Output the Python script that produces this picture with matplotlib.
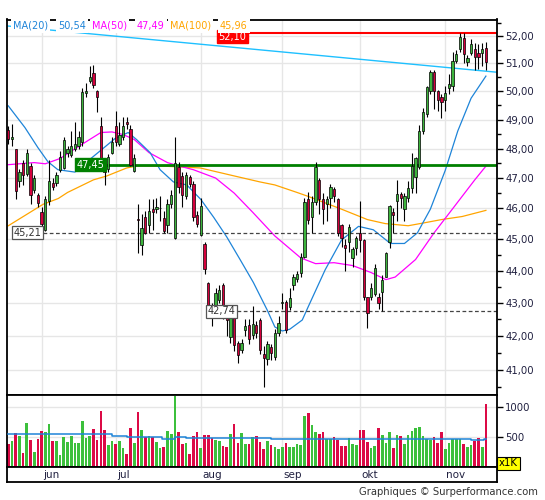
import numpy as np
import matplotlib.pyplot as plt
from matplotlib.ticker import FixedLocator, NullFormatter, FuncFormatter

# ============================================================
# data (index = trading day)
# ============================================================

opens = [48.62, 48.31, 47.97, 46.90, 47.52, 47.14, 47.41, 46.61, 46.45, 45.87,
         45.28, 46.23, 46.84, 46.84, 47.26, 47.34, 47.83, 47.79, 47.97, 48.07,
         48.21, 49.95, 50.38, 50.66, 50.00, 48.76, 47.50, 47.31, 47.86, 48.79,
         48.17, 48.41, 48.90, 48.66, 47.24, 45.65, 44.81, 45.73, 45.47, 45.97,
         45.97, 46.00, 45.67, 45.47, 46.13, 45.03, 47.38, 47.07, 46.39, 47.03,
         46.81, 45.77, 45.13, 44.84, 43.63, 42.95, 42.94, 43.09, 43.56, 42.88,
         41.97, 42.55, 41.79, 41.59, 42.18, 42.33, 42.03, 42.33, 42.48, 41.47,
         41.32, 41.68, 41.38, 42.09, 43.00, 43.03, 42.88, 43.56, 43.75, 43.94,
         44.44, 46.29, 45.70, 46.19, 46.94, 46.29, 46.13, 46.35, 46.65, 46.32,
         45.47, 44.81, 44.90, 44.41, 44.72, 45.20, 44.97, 43.19, 43.19, 43.28,
         43.19, 43.34, 43.81, 44.91, 45.87, 46.23, 46.48, 45.97, 46.35, 46.68,
         47.03, 47.38, 48.59, 49.19, 50.00, 50.69, 50.00, 49.81, 49.67, 50.10,
         50.17, 51.10, 51.54, 51.93, 51.04, 51.39, 51.54, 51.39, 51.39, 51.57]

highs = [48.76, 48.86, 47.99, 47.30, 47.60, 47.97, 47.50, 47.10, 46.50, 46.03,
         46.40, 47.60, 47.00, 47.20, 47.90, 48.40, 48.10, 48.60, 48.93, 48.60,
         50.10, 50.30, 50.90, 50.93, 50.05, 49.10, 47.60, 47.80, 48.40, 49.30,
         48.90, 49.10, 49.10, 48.80, 47.80, 46.13, 45.80, 45.90, 46.30, 46.30,
         46.35, 46.40, 45.90, 46.30, 46.60, 48.38, 47.55, 47.20, 47.20, 47.10,
         46.90, 45.90, 46.35, 44.90, 43.66, 43.00, 43.45, 43.56, 43.60, 42.95,
         42.70, 42.60, 41.85, 41.90, 42.50, 42.50, 42.90, 42.45, 42.55, 41.70,
         41.85, 41.75, 42.20, 42.60, 43.30, 43.10, 43.45, 43.90, 44.00, 44.55,
         46.35, 46.55, 46.40, 47.55, 47.00, 46.50, 46.40, 46.80, 46.70, 46.35,
         45.50, 45.00, 45.50, 44.75, 45.10, 46.23, 45.00, 43.19, 43.60, 44.20,
         43.30, 43.85, 44.60, 46.10, 46.00, 46.94, 46.55, 46.50, 46.90, 47.83,
         47.70, 48.80, 49.40, 50.20, 50.75, 50.75, 50.05, 49.90, 50.20, 50.60,
         51.40, 51.50, 52.10, 52.10, 51.30, 51.90, 51.75, 51.70, 51.75, 51.80]

lows = [48.14, 48.07, 46.29, 46.70, 46.77, 47.07, 46.13, 46.50, 46.05, 45.21,
        45.25, 46.10, 46.60, 46.75, 47.20, 47.30, 47.70, 47.70, 47.90, 48.00,
        48.10, 49.80, 50.30, 50.10, 49.26, 47.30, 46.77, 47.20, 47.80, 48.10,
        48.10, 48.30, 48.66, 47.40, 47.20, 44.56, 44.50, 45.15, 45.20, 45.30,
        45.85, 45.60, 45.20, 45.20, 46.00, 45.00, 46.50, 46.05, 46.30, 46.70,
        45.60, 45.40, 45.10, 43.90, 42.79, 42.30, 42.80, 43.00, 42.50, 42.00,
        41.80, 41.55, 41.20, 41.50, 42.00, 41.75, 41.90, 41.95, 41.45, 40.50,
        41.15, 41.30, 41.30, 42.00, 42.80, 42.10, 42.78, 43.40, 43.65, 43.80,
        44.40, 45.50, 45.20, 46.10, 45.80, 45.50, 45.60, 46.00, 46.20, 45.10,
        44.75, 44.00, 44.60, 44.10, 44.50, 44.60, 43.10, 42.25, 43.10, 43.20,
        42.80, 42.75, 43.80, 44.70, 45.20, 45.60, 46.00, 45.60, 46.20, 46.50,
        46.50, 47.30, 48.50, 49.10, 49.90, 49.37, 49.30, 49.07, 49.30, 49.90,
        50.00, 51.00, 51.40, 51.00, 50.90, 51.30, 50.75, 50.80, 50.90, 50.75]

closes = [48.34, 48.41, 46.58, 47.21, 47.10, 47.83, 46.45, 47.00, 46.16, 45.50,
          46.32, 46.90, 46.71, 47.10, 47.72, 48.28, 47.97, 48.10, 48.17, 48.41,
          49.96, 50.00, 50.52, 50.21, 49.78, 47.45, 47.20, 47.72, 48.24, 48.21,
          48.48, 48.79, 48.83, 47.45, 47.66, 45.62, 45.37, 45.20, 45.90, 45.87,
          46.03, 46.02, 45.27, 46.13, 46.45, 47.52, 46.71, 46.45, 47.10, 46.81,
          45.73, 45.50, 46.06, 44.06, 42.88, 42.75, 43.31, 43.41, 42.88, 42.48,
          42.58, 41.74, 41.44, 41.79, 42.30, 41.91, 42.36, 42.09, 41.59, 41.35,
          41.76, 41.50, 42.09, 42.39, 43.03, 42.18, 43.16, 43.81, 43.88, 44.44,
          46.19, 45.63, 46.19, 47.38, 46.32, 45.97, 46.29, 46.71, 46.39, 45.20,
          45.03, 44.72, 45.40, 44.69, 45.03, 44.97, 43.19, 42.70, 43.47, 44.09,
          43.00, 43.72, 44.56, 46.06, 45.77, 46.48, 46.35, 46.39, 46.68, 47.41,
          47.66, 48.59, 49.26, 50.14, 50.69, 50.00, 49.70, 49.63, 49.93, 50.25,
          51.07, 51.36, 51.96, 51.36, 51.21, 51.71, 51.25, 51.25, 51.54, 51.04]

# volume in thousands
volumes = [378, 428, 567, 511, 228, 728, 445, 250, 461, 595,
           578, 712, 428, 428, 195, 495, 411, 511, 395, 395,
           762, 478, 511, 628, 445, 928, 611, 361, 428, 378,
           428, 311, 211, 645, 395, 911, 611, 495, 511, 495,
           411, 311, 328, 595, 545, 1178, 578, 378, 395, 211,
           511, 578, 311, 528, 528, 478, 445, 428, 345, 328,
           545, 712, 395, 561, 378, 378, 495, 511, 411, 295,
           428, 361, 333, 295, 333, 406, 328, 328, 389, 361,
           845, 895, 695, 578, 545, 578, 473, 473, 495, 445,
           345, 345, 478, 378, 361, 611, 611, 411, 311, 345,
           645, 528, 395, 578, 311, 528, 511, 378, 528, 595,
           645, 661, 511, 461, 445, 495, 395, 578, 295, 395,
           461, 461, 461, 378, 328, 361, 428, 484, 328, 1045]

# moving averages
ma20_x = [0, 4.5, 8, 10.7, 13.4, 18, 22.6, 25.3, 28.8, 32.4, 34.7, 38.3, 41, 44.6,
          48.2, 52, 55.5, 59, 62.6, 66.2, 69.9, 72, 74, 76, 79.4, 81, 85.6, 90, 94.6,
          98.6, 103.2, 107, 110.5, 114, 118, 121.4, 125, 129]
ma20_y = [49.48, 48.72, 48.03, 47.55, 47.28, 47.20, 47.69, 47.97, 48.34, 48.55, 48.30,
          47.86, 47.28, 46.87, 46.77, 46.29, 45.70, 45.07, 44.35, 43.63, 42.79, 42.27,
          42.15, 42.20, 42.48, 42.88, 44.03, 44.97, 45.41, 45.30, 44.86, 44.86, 45.20,
          45.97, 47.25, 48.60, 49.75, 50.54]

ma50_x = [0, 7, 10, 14, 18.5, 22, 25, 28, 31, 34, 38, 43, 46, 50, 56, 61, 66, 72, 79,
          83, 88, 93, 98, 102, 104.5, 110, 115, 120.5, 126, 129]
ma50_y = [47.45, 47.52, 47.48, 47.66, 48.03, 48.31, 48.55, 48.57, 48.48, 48.31, 47.86,
          47.52, 47.41, 47.28, 47.00, 46.50, 45.87, 45.10, 44.40, 44.22, 44.25, 44.16,
          43.94, 43.72, 43.80, 44.35, 45.20, 46.06, 46.94, 47.40]

ma100_x = [0, 9.4, 13.5, 16, 23, 26.6, 32, 35, 42, 51.8, 60.7, 68, 72, 78, 81, 90,
           97, 101.8, 108, 112.6, 117, 122.6, 129]
ma100_y = [45.43, 46.13, 46.32, 46.52, 46.94, 47.07, 47.34, 47.41, 47.40, 47.34, 47.08,
           46.87, 46.77, 46.52, 46.39, 45.97, 45.63, 45.50, 45.43, 45.53, 45.63, 45.73,
           45.93]

vol_ma_x = [0, 28, 32, 41.5, 45, 48, 71, 80.5, 125, 128.5, 129]
vol_ma_y = [540, 512, 490, 473, 495, 478, 462, 473, 445, 473, 473]

# resistance trend line (two ends)
trend_x = [-0.4, 132]
trend_y = [52.38, 50.68]

# horizontal levels: value, label, start index
level_values = [52.10, 47.45, 45.21, 42.74]
level_labels = ["52,10", "47,45", "45,21", "42,74"]
level_starts = [64.8, 26.4, 9.4, 61.8]

month_names = ["jun", "jul", "aug", "sep", "okt", "nov"]
month_start = [9, 29, 52, 74, 95, 118]

legend_items = [("MA(20)", "50,54"), ("MA(50)", "47,49"), ("MA(100)", "45,96")]

# ============================================================
# style
# ============================================================

W, H = 545, 500
C_UP = "#3cb43c"
C_DN = "#d4003c"
C_VUP = "#3cc03c"
C_VDN = "#dc0a46"
C_MA20 = "#1e84d8"
C_MA50 = "#ff00ff"
C_MA100 = "#ffa500"
C_TREND = "#1ec0ff"
C_GRID = "#e6e6e6"
C_TXT = "#202040"
XMIN, XMAX = -0.35, 132.0

plt.rcParams["font.family"] = ["DejaVu Sans"]


def fx(px):
    return px / W


def fy(py):
    return 1 - py / H


fig = plt.figure(figsize=(W / 100, H / 100), dpi=100)
fig.patch.set_facecolor("white")

ax = fig.add_axes([fx(7), fy(395), fx(490), (395 - 19.5) / H])
axv = fig.add_axes([fx(7), fy(467), fx(490), 72 / H])
axd = fig.add_axes([fx(7), fy(482), fx(490), 15 / H])

x = np.arange(len(closes))
o = np.array(opens)
c = np.array(closes)
up = c >= o

# ---------------- price panel ----------------
ax.set_yscale("log")
ax.set_xlim(XMIN, XMAX)
ax.set_ylim(40.27, 52.62)

ax.yaxis.set_major_locator(FixedLocator(np.arange(41, 53)))
ax.yaxis.set_major_formatter(FuncFormatter(lambda v, p: f"{v:.2f}".replace(".", ",")))
ax.yaxis.set_minor_locator(FixedLocator(np.arange(40.5, 53, 1.0)))
ax.yaxis.set_minor_formatter(NullFormatter())
ax.yaxis.tick_right()
ax.tick_params(axis="y", which="major", length=4, width=1, pad=2,
               labelsize=7.3, labelcolor=C_TXT)
ax.tick_params(axis="y", which="minor", length=3, width=1)
ax.set_xticks(month_start)
ax.tick_params(axis="x", length=0, labelbottom=False)
ax.grid(True, which="major", color=C_GRID, linewidth=1, zorder=0)
ax.set_axisbelow(True)

ax.plot(ma100_x, ma100_y, color=C_MA100, lw=0.9, zorder=2)
ax.plot(ma50_x, ma50_y, color=C_MA50, lw=0.9, zorder=2)
ax.plot(ma20_x, ma20_y, color=C_MA20, lw=0.9, zorder=2)
ax.plot(trend_x, trend_y, color=C_TREND, lw=1.0, zorder=2)

# levels
for val, lab, start in zip(level_values, level_labels, level_starts):
    dy = 0
    if lab == "52,10":
        ax.plot([start, XMAX], [val, val], color="#ff0000", lw=1.5, zorder=2.5)
        box = dict(boxstyle="square,pad=0.15", fc="#ff0000", ec="#ff0000")
        tc = "white"
        dy = -2.5
    elif lab == "47,45":
        ax.plot([start, XMAX], [val, val], color="#008000", lw=2.0, zorder=2.5)
        box = dict(boxstyle="square,pad=0.15", fc="#008000", ec="#008000")
        tc = "white"
    else:
        ax.plot([start, XMAX], [val, val], color="#444444", lw=0.9,
                linestyle=(0, (3, 2)), zorder=2.5)
        box = dict(boxstyle="square,pad=0.15", fc="white", ec="#555555", lw=0.9)
        tc = "#333333"
    ax.annotate(lab, xy=(start - 0.45, val), xytext=(0, dy), textcoords="offset points",
                ha="right", va="center", fontsize=7, color=tc, bbox=box, zorder=6)

# candles
ax.vlines(x, lows, highs, color="black", lw=0.8, zorder=3)
body_h = np.maximum(np.abs(c - o), 0.015)
body_b = np.minimum(o, c)
ax.bar(x, body_h, bottom=body_b, width=0.62,
       color=np.where(up, C_UP, C_DN), edgecolor="black", linewidth=0.5, zorder=4)

for s in ax.spines.values():
    s.set_linewidth(1.3)

# ---------------- volume panel ----------------
axv.set_xlim(XMIN, XMAX)
axv.set_ylim(0, 1195)
axv.bar(x, volumes, width=0.72, color=np.where(up, C_VUP, C_VDN), zorder=2)
axv.plot(vol_ma_x, vol_ma_y, color=C_MA20, lw=1.1, drawstyle="steps-post", zorder=3)
axv.yaxis.tick_right()
axv.set_yticks([500, 1000])
axv.set_yticklabels(["500", "1000"])
axv.tick_params(axis="y", length=4, width=1, pad=2, labelsize=7.3, labelcolor=C_TXT)
axv.set_xticks(month_start)
axv.tick_params(axis="x", length=0, labelbottom=False)
axv.grid(True, color=C_GRID, linewidth=1, zorder=0)
axv.set_axisbelow(True)
for s in axv.spines.values():
    s.set_linewidth(1.3)

# ---------------- date strip ----------------
axd.set_xlim(XMIN, XMAX)
axd.set_ylim(0, 1)
axd.set_xticks([])
axd.set_yticks([])
for s in axd.spines.values():
    s.set_linewidth(1.3)
for name, ms in zip(month_names, month_start):
    axd.text(ms + 0.3, 0.45, name, ha="left", va="center", fontsize=7.5, color=C_TXT)

# ---------------- legend row ----------------
leg_colors = [C_MA20, C_MA50, C_MA100]
leg_px = [(13, 58), (92, 137), (170, 220)]
for (name, val), col, (p1, p2) in zip(legend_items, leg_colors, leg_px):
    for txt, px in ((name, p1), (val, p2)):
        fig.text(fx(px), fy(26), txt, ha="left", va="center", fontsize=7, color=col,
                 bbox=dict(boxstyle="square,pad=0.2", fc="white", ec="none"), zorder=5)

# volume unit box
fig.text(fx(499), fy(463.5), "x1K", ha="left", va="center", fontsize=7.3, color="black",
         bbox=dict(boxstyle="square,pad=0.15", fc="#ffff00", ec="black", lw=0.8), zorder=5)

# footer
fig.text(fx(538), fy(492), "Graphiques \u00a9 Surperformance.com", ha="right", va="center",
         fontsize=7.2, color="#333333")

fig.savefig("out.png", dpi=100, facecolor="white")
